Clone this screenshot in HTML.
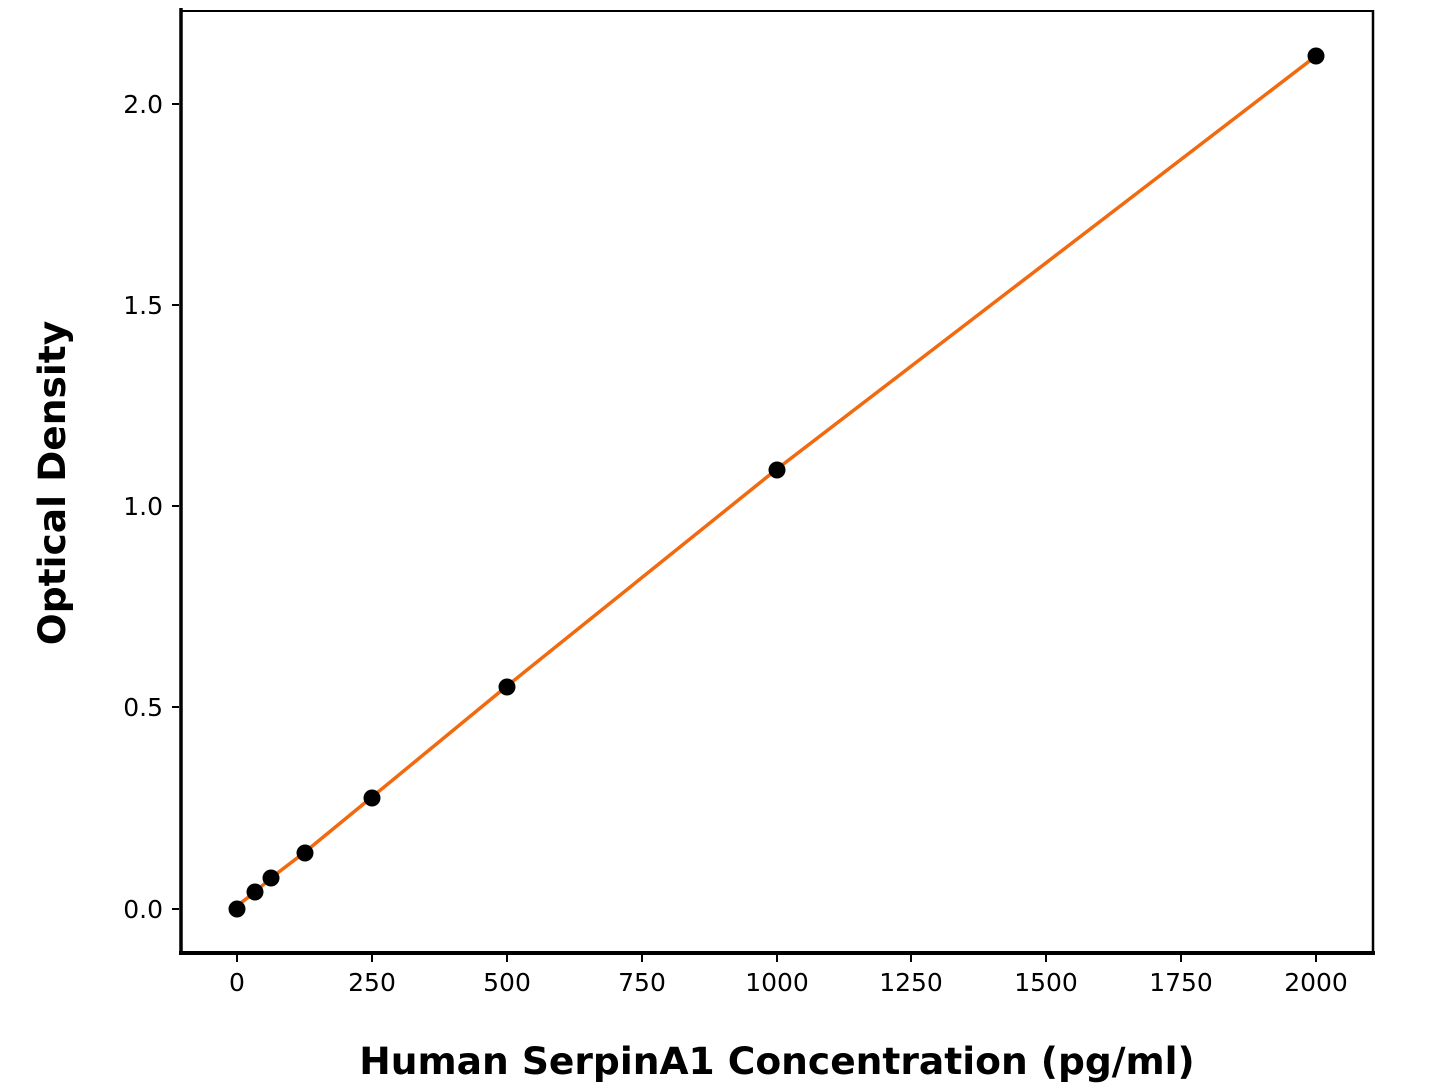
<!DOCTYPE html>
<html><head><meta charset="utf-8"><style>body{margin:0;background:#fff}</style></head>
<body>
<svg width="1445" height="1084" xmlns="http://www.w3.org/2000/svg" font-family="DejaVu Sans, Liberation Sans, sans-serif">
<rect width="1445" height="1084" fill="#fff"/>
<line x1="180" y1="11" x2="1373" y2="11" stroke="#000" stroke-width="2"/>
<line x1="1373" y1="10" x2="1373" y2="954" stroke="#000" stroke-width="2.5"/>
<line x1="181" y1="8" x2="181" y2="955" stroke="#000" stroke-width="3.5"/>
<line x1="179" y1="953" x2="1375" y2="953" stroke="#000" stroke-width="4"/>
<g stroke="#000" stroke-width="2">
<line x1="237" y1="955" x2="237" y2="962"/><line x1="372" y1="955" x2="372" y2="962"/><line x1="507" y1="955" x2="507" y2="962"/><line x1="642" y1="955" x2="642" y2="962"/><line x1="777" y1="955" x2="777" y2="962"/><line x1="911" y1="955" x2="911" y2="962"/><line x1="1046" y1="955" x2="1046" y2="962"/><line x1="1181" y1="955" x2="1181" y2="962"/><line x1="1316" y1="955" x2="1316" y2="962"/>
<line x1="172" y1="909" x2="179" y2="909"/><line x1="172" y1="707" x2="179" y2="707"/><line x1="172" y1="506" x2="179" y2="506"/><line x1="172" y1="305" x2="179" y2="305"/><line x1="172" y1="104" x2="179" y2="104"/>
</g>
<g font-size="25" text-anchor="middle" fill="#000">
<text x="237" y="991">0</text><text x="372" y="991">250</text><text x="507" y="991">500</text><text x="642" y="991">750</text><text x="777" y="991">1000</text><text x="911" y="991">1250</text><text x="1046" y="991">1500</text><text x="1181" y="991">1750</text><text x="1316" y="991">2000</text>
</g>
<g font-size="25" text-anchor="end" fill="#000">
<text x="163" y="918">0.0</text><text x="163" y="716">0.5</text><text x="163" y="515">1.0</text><text x="163" y="314">1.5</text><text x="163" y="113">2.0</text>
</g>
<text x="777" y="1074" font-size="37.6" font-weight="bold" text-anchor="middle">Human SerpinA1 Concentration (pg/ml)</text>
<text transform="translate(65,483) rotate(-90)" font-size="37.6" font-weight="bold" text-anchor="middle">Optical Density</text>
<polyline fill="none" stroke="#f26a10" stroke-width="3.5" points="237,906 255,892 271,878 305,852 372,797 507,686 777,469 1316,56"/>
<g fill="#000">
<circle cx="237" cy="909" r="8.5"/><circle cx="255" cy="892" r="8.5"/><circle cx="271" cy="878" r="8.5"/><circle cx="305" cy="853" r="8.5"/><circle cx="372" cy="798" r="8.5"/><circle cx="507" cy="687" r="8.5"/><circle cx="777" cy="470" r="8.5"/><circle cx="1316" cy="56" r="8.5"/>
</g>
</svg>
</body></html>
